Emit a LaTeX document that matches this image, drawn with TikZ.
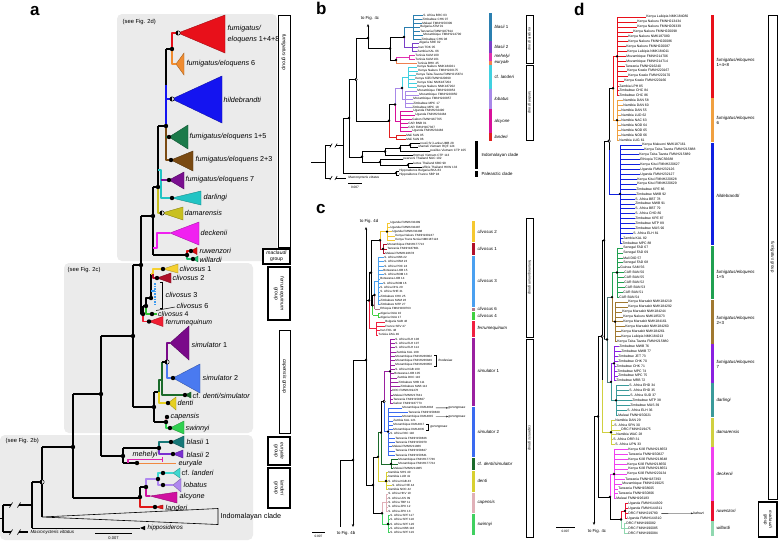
\documentclass[tikz,border=0pt]{standalone}
\usepackage{fontspec}
\setmainfont{Liberation Sans}
\usetikzlibrary{arrows.meta}
\definecolor{boxgray}{HTML}{EBEBEB}
\definecolor{aFe148}{HTML}{E8101A}\definecolor{aFe6}{HTML}{F08C30}\definecolor{aHil}{HTML}{1414F0}
\definecolor{aFe15}{HTML}{1B7A4A}\definecolor{aFe23}{HTML}{7A4A12}\definecolor{aFe7}{HTML}{7A1090}
\definecolor{aDar}{HTML}{22C4C4}\definecolor{aDam}{HTML}{C8C020}\definecolor{aDec}{HTML}{F020F0}
\definecolor{aRuw}{HTML}{D81010}\definecolor{aWil}{HTML}{20C070}\definecolor{aCl1}{HTML}{F5D030}
\definecolor{aCl2}{HTML}{B0102A}\definecolor{aCl3}{HTML}{3A9AF0}\definecolor{aCl4}{HTML}{30C030}
\definecolor{aFer}{HTML}{F01E32}\definecolor{aSim1}{HTML}{7A0A8A}\definecolor{aSim2}{HTML}{4A7AF0}
\definecolor{aCfd}{HTML}{1A6A2A}\definecolor{aDen}{HTML}{E6D020}\definecolor{aCap}{HTML}{E8A8B0}
\definecolor{aSwi}{HTML}{30D050}\definecolor{aBl1}{HTML}{167878}\definecolor{aBl2}{HTML}{7A30D0}
\definecolor{aMeh}{HTML}{E020B0}\definecolor{aEur}{HTML}{F08840}\definecolor{aCfl}{HTML}{40D8D0}
\definecolor{aLob}{HTML}{B088F0}\definecolor{aAlc}{HTML}{D010A0}\definecolor{aLan}{HTML}{E01818}
\definecolor{bB1}{HTML}{2B7FB0}\definecolor{bB2}{HTML}{7A40C8}\definecolor{bMeh}{HTML}{E030B0}
\definecolor{bEur}{HTML}{F08050}\definecolor{bCfl}{HTML}{40D0E0}\definecolor{bLob}{HTML}{A888E8}
\definecolor{bAlc}{HTML}{D8109A}\definecolor{bLan}{HTML}{E02020}
\definecolor{cC2}{HTML}{F5C830}\definecolor{cC1}{HTML}{B0102A}\definecolor{cC3}{HTML}{4AA0F0}
\definecolor{cC6}{HTML}{B07888}\definecolor{cC4}{HTML}{40D040}\definecolor{cFer}{HTML}{F02040}
\definecolor{cSim1}{HTML}{9A20A0}\definecolor{cSim2}{HTML}{3A6AF0}\definecolor{cCfd}{HTML}{1A6A2A}
\definecolor{cDen}{HTML}{D8D030}\definecolor{cCap}{HTML}{E0B0B8}\definecolor{cSwi}{HTML}{40D060}
\definecolor{dRed}{HTML}{E8101A}\definecolor{dOra}{HTML}{F0A040}\definecolor{dBlu}{HTML}{1020E0}
\definecolor{dGre}{HTML}{20A050}\definecolor{dBro}{HTML}{A07830}\definecolor{dPur}{HTML}{8A20E0}
\definecolor{dTea}{HTML}{3A9A9A}\definecolor{dOli}{HTML}{D0D040}\definecolor{dMag}{HTML}{F040F0}
\definecolor{dRuw}{HTML}{E81030}\definecolor{dWil}{HTML}{90D8B0}\definecolor{dSla}{HTML}{507878}
\tikzset{
  ta/.style={line width=1.5pt, line join=round},
  tr/.style={line width=0.45pt},
  lab/.style={font=\fontsize{7.2}{8}\selectfont, anchor=west, inner sep=0.5pt},
  labs/.style={font=\fontsize{6.2}{7}\selectfont, anchor=west, inner sep=0.5pt},
  small/.style={font=\fontsize{5.8}{7}\selectfont, anchor=west, inner sep=0.5pt},
  tipb/.style={font=\fontsize{3.1}{3.3}\selectfont, anchor=west, inner sep=0.2pt},
  tipc/.style={font=\fontsize{3.0}{3.2}\selectfont, anchor=west, inner sep=0.2pt},
  tipd/.style={font=\fontsize{3.4}{3.6}\selectfont, anchor=west, inner sep=0.2pt},
  barlab/.style={font=\fontsize{4.4}{4.9}\selectfont\itshape, anchor=west, inner sep=0.3pt, align=left},
  panel/.style={font=\fontsize{17}{17}\selectfont\bfseries, anchor=base west, inner sep=0pt},
  grpa/.style={font=\fontsize{5}{5.8}\selectfont, align=center, inner sep=0pt},
  grpb/.style={font=\fontsize{3.6}{4}\selectfont, align=center, inner sep=0pt},
  grpd/.style={font=\fontsize{4.3}{4.8}\selectfont, align=center, inner sep=0pt},
  tof/.style={font=\fontsize{4.3}{4.5}\selectfont, inner sep=0.3pt},
  sbl/.style={font=\fontsize{3.2}{3.4}\selectfont, inner sep=0.2pt},
  gbox/.style={draw, line width=0.7pt, fill=white},
  gboxb/.style={draw, line width=1.1pt, fill=white},
  arr/.style={-{Stealth[length=3pt,width=2.4pt]}},
}
\newcommand{\ndA}[2]{\fill (#1,#2) circle (2.2);}
\newcommand{\hnA}[2]{\fill[white] (#1,#2) circle (2.2); \fill (#1,#2) -- ++(90:2.2) arc (90:270:2.2) -- cycle; \draw[line width=0.5pt] (#1,#2) circle (2.2);}
\newcommand{\ndS}[2]{\fill (#1,#2) circle (1.3);}
\newcommand{\hnS}[2]{\fill[white] (#1,#2) circle (1.4); \fill (#1,#2) -- ++(90:1.4) arc (90:270:1.4) -- cycle; \draw[line width=0.35pt] (#1,#2) circle (1.4);}
\newcommand{\triA}[5]{\filldraw[fill=#1, draw=#1!70!black, line width=0.4pt] (#2) -- (#3,#4) -- (#3,#5) -- cycle;}
\newcommand{\cbarX}[4]{\fill[#1] (#2,#3) rectangle (#2+2.6,#4);}
\newcommand{\brkX}[7]{%
  \draw[#6] (#1,#5) -- (#2,#5);
  \draw[#6] (#3,#5) -- (#4,#5);
  \draw[line width=0.6pt] (#2-0.6*#7,#5+#7) -- (#2+0.6*#7,#5-#7);
  \draw[line width=0.6pt] (#3-0.6*#7,#5+#7) -- (#3+0.6*#7,#5-#7);}
\newcommand{\cladeX}[9]{%
  \foreach \lab/\lx [count=\k from #6] in {#9}{%
    \pgfmathsetmacro{\yy}{#2+#3*\k}%
    \node[tip#1] (#1\k) at (\lx,\yy) {\lab};%
    \draw[tr,#4] (#5,\yy) -- (#1\k.west);%
  }%
  \pgfmathsetmacro{\ya}{#2+#3*#6}%
  \pgfmathsetmacro{\yb}{#2+#3*#7}%
  \draw[tr,#4] (#5,\ya) -- (#5,\yb);%
  \coordinate (#8) at (#5,{(\ya+\yb)/2});%
}
\begin{document}
\begin{tikzpicture}[x=1pt,y=-1pt]
\fill[white] (0,0) rectangle (778,542);
\useasboundingbox (0,0) rectangle (778,542);
%================ PANEL A ================
\node[panel] (pa) at (30,15) {a};
\fill[boxgray, rounded corners=5pt] (117,14) rectangle (277,261);
\fill[boxgray, rounded corners=5pt] (64,263) rectangle (253,433);
\fill[boxgray, rounded corners=5pt] (0,435) rectangle (253,540);
\node[small] (s2d) at (122,22) {(see Fig. 2d)};
\node[small] (s2c) at (67,270) {(see Fig. 2c)};
\node[small] (s2b) at (5,441) {(see Fig. 2b)};
% backbone
\draw[ta] (0,518.5) -- (3,518.5);
\draw[ta] (3,505) -- (3,532);
\brkX{3}{11}{19}{32}{505}{ta}{2.6}
\brkX{3}{11}{19}{28}{532}{ta}{2.6}
\node[font=\fontsize{4.5}{5}\selectfont\itshape, anchor=west, inner sep=0.3pt] (lMac) at (30,532) {Macronycteris vittatus};
\draw[ta] (32,482) -- (32,528);
\draw[ta] (32,482) -- (42,482);
\draw[line width=0.6pt] (32,528) -- (140,528);
\fill (140,528) -- (145,525.8) -- (145,530.2) -- cycle;
\node[labs] (lHip) at (147,528) {\textit{hipposideros}};
\draw[line width=0.6pt] (42,517) -- (218,508.5) -- (218,524.5) -- cycle;
\node[lab] (lInd) at (220,516.5) {Indomalayan clade};
\draw[ta] (42,447) -- (42,517);
\draw[ta] (42,447) -- (73,447);
\draw[ta] (73,394) -- (73,498);
\draw[ta] (73,394) -- (101,394);
\draw[ta] (101,336) -- (101,456);
\draw[ta] (101,336) -- (133,336);
\draw[ta] (133,265) -- (133,407);
\draw[ta] (133,265) -- (141,265);
\draw[line width=0.6pt] (95,533) -- (132,533);
\node[font=\fontsize{4}{4}\selectfont] (sa) at (113.5,538.3) {0.007};
% fumigatus group
\triA{aFe148}{178,33}{225}{15}{53}
\triA{aFe6}{176,64}{184}{53}{75}
\triA{aHil}{172,99}{222}{76}{123}
\triA{aFe15}{169,137}{188}{125}{149}
\triA{aFe23}{171,160}{193}{151}{171}
\triA{aFe7}{169,180}{184}{172}{189}
\triA{aDar}{172,198}{201}{191}{205}
\triA{aDam}{162,213}{183}{207}{220}
\triA{aDec}{170,233}{199}{222}{245}
\triA{aRuw}{191,251}{197}{247.5}{254.5}
\triA{aWil}{193,259}{198}{256}{262}
\draw[ta] (141,216) -- (153,216);
\draw[ta] (153,187) -- (153,255);
\draw[ta] (153,187) -- (158,187);
\draw[ta] (158,126) -- (158,187);
\draw[ta,aDam] (158,187) -- (158,213) -- (162,213);
\draw[ta] (158,126) -- (166,126);
\draw[ta] (166,49) -- (166,85);
\draw[ta,aHil] (166,85) -- (166,126);
\draw[ta,aFe23] (166,126) -- (166,160) -- (171,160);
\draw[ta,aFe15] (166,137) -- (169,137);
\draw[ta] (166,49) -- (172,49);
\draw[ta,aHil] (166,99) -- (172,99);
\draw[ta,aFe148] (172,49) -- (172,33) -- (178,33);
\draw[ta,aFe6] (172,49) -- (172,64) -- (176,64);
\draw[ta,aDar] (158,170) -- (161,170) -- (161,198) -- (172,198);
\draw[ta,aFe7] (161,180) -- (169,180);
\draw[ta,aDec] (153,248) -- (157,248) -- (157,233) -- (170,233);
\draw[ta] (153,255) -- (187,255);
\draw[ta,aRuw] (187,255) -- (187,251) -- (191,251);
\draw[ta,aWil] (187,255) -- (187,259) -- (193,259);
\hnA{178}{33}\hnA{172}{99}\hnA{162}{213}
\ndA{172}{49}\ndA{166}{126}\ndA{169}{137}\ndA{171}{160}\ndA{169}{180}\ndA{172}{198}
\ndA{158}{187}\ndA{153}{216}\ndA{141}{265}\ndA{187}{255}\ndA{191}{251}\ndA{193}{259}
\ndA{133}{336}\ndA{101}{394}\ndA{73}{447}
\hnA{42}{482}
\node[lab] (lF1) at (227,29) {\textit{fumigatus/}};
\node[lab] (lF1b) at (227,40) {\textit{eloquens} 1+4+8};
\node[lab] (lF6) at (186,64) {\textit{fumigatus/eloquens} 6};
\node[lab] (lHi) at (223,100) {\textit{hildebrandti}};
\node[lab] (lF15) at (189,137) {\textit{fumigatus/eloquens} 1+5};
\node[lab] (lF23) at (195,160) {\textit{fumigatus/eloquens} 2+3};
\node[lab] (lF7) at (185,180) {\textit{fumigatus/eloquens} 7};
\node[lab] (lDa) at (203,198) {\textit{darlingi}};
\node[lab] (lDm) at (184,213) {\textit{damarensis}};
\node[lab] (lDe) at (200,233) {\textit{deckenii}};
\node[lab] (lRu) at (199,251) {\textit{ruwenzori}};
\node[lab] (lWi) at (199,260) {\textit{willardi}};
% ferrumequinum group
\triA{aCl1}{163,269}{178}{264}{273}
\triA{aCl2}{157,278}{171}{273}{283}
\triA{aFer}{149,321.5}{163}{316.5}{326.5}
\draw[ta] (141,216) -- (141,314) -- (143,314);
\draw[ta] (143,306) -- (143,314);
\draw[ta,aFer] (143,314) -- (143,321.5) -- (149,321.5);
\draw[ta] (143,306) -- (146,306) -- (146,298) -- (151,298);
\draw[ta,aCl4] (146,306) -- (146,314) -- (157,314);
\draw[ta] (151,298) -- (151,274);
\draw[ta,aCl1] (151,274) -- (153,274) -- (153,269) -- (163,269);
\draw[ta,aCl2] (153,274) -- (153,278) -- (157,278);
\draw[ta,aCl3] (151,291) -- (155,291);
\draw[aCl3, line width=1.6pt, dash pattern=on 1.6pt off 1pt] (155,283) -- (155,306);
\draw[line width=0.5pt] (160,282) -- (162,282) -- (162,308) -- (160,308);
\draw[line width=0.5pt] (156,310.5) -- (175,307);
\ndA{163}{269}\ndA{157}{278}\ndA{151}{298}\ndA{146}{306}\ndA{143}{314}\ndA{152}{314}\ndA{149}{321.5}
\node[lab] (lC1) at (179,269) {\textit{clivosus} 1};
\node[lab] (lC2) at (172,278) {\textit{clivosus} 2};
\node[lab] (lC3) at (165,295) {\textit{clivosus} 3};
\node[lab] (lC6) at (176,306.3) {\textit{clivosus} 6};
\node[lab,font=\fontsize{6.9}{7.5}\selectfont] (lC4) at (157.5,314.2) {\textit{clivosus} 4};
\node[lab,font=\fontsize{6.9}{7.5}\selectfont] (lFe) at (165,322.6) {\textit{ferrumequinum}};
% capensis group
\triA{aSim1}{170,343}{189}{326}{360}
\triA{aSim2}{173,378}{200}{364}{393}
\triA{aCfd}{185,395}{191}{392}{398}
\triA{aDen}{168,403}{176}{397}{410}
\triA{aSwi}{170,428}{184}{421}{434}
\draw[ta] (133,407) -- (154,407);
\draw[ta] (154,392) -- (154,422);
\draw[ta] (154,392) -- (159,392);
\draw[ta,aCfd] (159,392) -- (159,380) -- (162,380);
\draw[ta,aDen] (159,392) -- (159,403) -- (168,403);
\draw[ta,aCfd] (162,362) -- (162,395) -- (185,395);
\draw[ta] (162,362) -- (167,362);
\draw[ta,aSim1] (167,362) -- (167,343) -- (170,343);
\draw[ta,aSim2] (167,362) -- (167,378) -- (173,378);
\draw[ta] (154,422) -- (166,422);
\draw[ta,aCap] (166,422) -- (166,417) -- (167,417);
\draw[ta,aSwi] (166,422) -- (166,428) -- (170,428);
\hnA{167}{362}
\ndA{154}{407}\ndA{166}{422}\ndA{167}{417}\ndA{170}{428}\ndA{168}{403}\ndA{185}{395}\ndA{173}{378}
\node[lab] (lS1) at (191,345) {\textit{simulator} 1};
\node[lab] (lS2) at (202,378) {\textit{simulator} 2};
\node[lab] (lCf) at (192,395.5) {cf. \textit{denti/simulator}};
\node[lab] (lDn) at (177,403) {\textit{denti}};
\node[lab] (lCp) at (170,416.5) {\textit{capensis}};
\node[lab] (lSw) at (185,428.5) {\textit{swinnyi}};
% euryale / blasii
\triA{aBl1}{171,442}{184}{436}{448}
\triA{aBl2}{173,454}{183}{450}{458}
\draw[ta] (101,456) -- (123,456);
\draw[ta] (123,448) -- (123,463);
\draw[ta] (123,448) -- (159,448);
\draw[ta,aBl1] (159,448) -- (159,442) -- (171,442);
\draw[ta,aBl2] (159,448) -- (159,454) -- (173,454);
\draw[ta] (123,463) -- (137,463);
\draw[ta,aMeh] (128,463) -- (128,459.5) -- (162,459.5);
\draw[aMeh, line width=1pt] (162,457) -- (162,462);
\draw[ta,aEur] (137,463.5) -- (176,463.5);
\ndA{123}{456}\ndA{159}{448}\ndA{171}{442}\ndA{173}{454}\ndA{137}{463}
\node[lab] (lB1) at (186,442) {\textit{blasii} 1};
\node[lab] (lB2) at (186,454.5) {\textit{blasii} 2};
\node[lab] (lMe) at (132,454.5) {\textit{mehelyi}};
\node[lab] (lEu) at (178,463.5) {\textit{euryale}};
% landeri group
\triA{aCfl}{173,473}{180}{468}{478}
\triA{aLob}{173,485}{181}{478.5}{492}
\triA{aAlc}{150,496}{177}{492}{503}
\triA{aLan}{155,507}{163}{505}{509}
\draw[ta] (73,498) -- (140,498);
\draw[ta] (140,487) -- (140,498);
\draw[ta,aLan] (140,498) -- (140,507) -- (155,507);
\draw[ta] (140,487) -- (146,487);
\draw[ta,aLob] (146,487) -- (146,479) -- (158,479);
\draw[ta,aAlc] (146,487) -- (146,496) -- (150,496);
\draw[ta,aCfl] (158,479) -- (158,473) -- (173,473);
\draw[ta,aLob] (158,479) -- (158,485) -- (173,485);
\ndA{140}{497}\ndA{146}{487}\ndA{158}{479}\ndA{155}{507}\ndA{163}{473}\ndA{163}{485}
\node[lab] (lCl) at (181,473) {cf. \textit{landeri}};
\node[lab] (lLo) at (183,485) {\textit{lobatus}};
\node[lab] (lAl) at (179,496.5) {\textit{alcyone}};
\node[lab] (lLa) at (165,507.5) {\textit{landeri}};
% group boxes a
\draw[gbox] (278,15) rectangle (290,247);
\node[grpa, rotate=-90] (gaF) at (284,52) {\textit{fumigatus} group};
\draw[gboxb] (263,249) rectangle (290,264);
\node[grpa] (gaM) at (276.5,256.5) {\textit{maclaudi}\\group};
\draw[gboxb] (268,267) rectangle (290,320);
\node[grpa, rotate=-90] (gaFe) at (279,293.5) {\textit{ferrumequinum}\\group};
\draw[gbox] (279,330) rectangle (290,433);
\node[grpa, rotate=-90] (gaC) at (284.5,376) {\textit{capensis} group};
\draw[gboxb] (268,437) rectangle (290,465);
\node[grpa, rotate=-90] (gaE) at (279,451) {\textit{euryale}\\group};
\draw[gboxb] (268,468) rectangle (290,508);
\node[grpa, rotate=-90] (gaL) at (279,488) {\textit{landeri}\\group};
%================ PANEL B ================
\node[panel] (pb) at (316,14) {b};
\cladeX{b}{15}{4}{bB1}{413}{0}{6}{bq1}{S. Africa BRC 03/423, Zimbabwe CHK 07/422, Malawi FMNH150309/422, Bulgaria ATM 01/420, Tanzania FMNH187814/420, Mozambique FMNH214700/423, Zimbabwe CHK 08/421}
\cladeX{b}{15}{4}{bB2}{412}{7}{9}{bq2}{Algeria SRE 02/419, Iran TOK 05/418, Zambia KAL 06/417}
\cladeX{b}{15}{4}{bMeh}{409}{10}{11}{bq3}{Tunisia KAM 100/415, Tunisia KAM 101/415}
\cladeX{b}{15}{4}{bEur}{396}{12}{12}{bq4}{Tunisia BHK 45/417}
\cladeX{b}{15}{4}{bCfl}{408}{13}{18}{bq5}{Kenya Nakuru NMK184021/417, Kenya Nakuru FMNH220175/418, Kenya Taita-Taveta FMNH215874/416, Kenya Kilifi FMNH220690/415, Kenya Kitui NMK187204/417, Kenya Nakuru NMK187202/417}
\cladeX{b}{15}{4}{bLob}{405}{19}{23}{bq6}{Mozambique FMNH220853/417, Mozambique FMNH220850/419, Mozambique FMNH220857/413, Zimbabwe MPC 17/413, Zimbabwe MPC 18/412}
\cladeX{b}{15}{4}{bAlc}{400}{24}{29}{bq7}{Uganda FMNH232490/413, Uganda FMNH232484/415, Gabon FMNH167765/412, CAR BNB 01/408, CAR FMNH167367/408, Uganda FMNH232483/412}
\cladeX{b}{15}{4}{bLan}{396}{30}{31}{bq8}{Mali SAN 95/406, Mali SAN 96/406}
\cladeX{b}{15}{4}{black}{410}{32}{33}{bq9}{rouxii Sri Lanka UMB 28/420, shameli Vietnam RQF 124/418}
\cladeX{b}{15}{4}{black}{400}{34}{34}{bq10}{pusillus Vietnam CTP 105/430}
\cladeX{b}{15}{4}{black}{385}{35}{35}{bq11}{thomasi Vietnam CTP 113/413}
\cladeX{b}{15}{4}{black}{380}{36}{36}{bq12}{pearsoni Thailand NUC 102/403}
\cladeX{b}{15}{4}{black}{408}{37}{38}{bq13}{luctus Thailand KBO 99/413, affinis Thailand HKW 133/422}
\cladeX{b}{15}{4}{black}{396}{39}{40}{bq14}{Hipposideros Bulgaria BKA 83/399, Hipposideros France SBP 94/399}
\draw[tr,bB1] (404,27) -- (404,37); \draw[tr,bB2] (404,37) -- (404,47);
\draw[tr,bB1] (404,27) -- (413,27); \draw[tr,bB2] (404,47) -- (412,47);
\draw[tr,bMeh] (396,57) -- (396,60); \draw[tr,bEur] (396,60) -- (396,63);
\draw[tr,bMeh] (396,57) -- (409,57);
\draw[tr] (390,37) -- (390,60); \draw[tr] (390,37) -- (404,37); \draw[tr] (390,60) -- (396,60);
\draw[tr] (368,48.5) -- (390,48.5);
\draw[tr,arr] (368,48.5) -- (368,24);
\node[tof] (t4c) at (370,18.5) {to Fig. 4c};
\draw[tr] (356,38) -- (368,38);
\draw[tr,bCfl] (402,77) -- (402,88); \draw[tr,bLob] (402,88) -- (402,99);
\draw[tr,bCfl] (402,77) -- (408,77); \draw[tr,bLob] (402,99) -- (405,99);
\draw[tr,bLob] (395,88) -- (395,104.5); \draw[tr,bAlc] (395,104.5) -- (395,121);
\draw[tr,bLob] (395,88) -- (402,88); \draw[tr,bAlc] (395,121) -- (400,121);
\draw[tr] (389,104.5) -- (389,120.75); \draw[tr,bLan] (389,120.75) -- (389,137);
\draw[tr] (389,104.5) -- (395,104.5); \draw[tr,bLan] (389,137) -- (396,137);
\draw[tr] (356,38) -- (356,120.75); \draw[tr] (356,120.75) -- (389,120.75);
\draw[tr] (400,145) -- (400,151); \draw[tr] (400,145) -- (410,145);
\draw[tr] (385,148) -- (385,155); \draw[tr] (385,148) -- (400,148);
\draw[tr] (380,159) -- (380,165); \draw[tr] (380,165) -- (408,165);
\draw[tr] (362,151.5) -- (362,162); \draw[tr] (362,151.5) -- (385,151.5); \draw[tr] (362,162) -- (380,162);
\draw[tr] (349,79.4) -- (349,156.75); \draw[tr] (349,79.4) -- (356,79.4); \draw[tr] (349,156.75) -- (362,156.75);
\draw[tr] (343,118) -- (343,173); \draw[tr] (343,118) -- (349,118); \draw[tr] (343,173) -- (396,173);
\draw[tr] (325,145.5) -- (325,178);
\draw[tr] (311,161.75) -- (325,161.75);
\brkX{325}{331}{336}{343}{145.5}{tr}{2}
\brkX{325}{331}{336}{346}{178}{tr}{2}
\node[font=\fontsize{3.2}{3.4}\selectfont\itshape, anchor=west, inner sep=0.2pt] (lMacb) at (348,178) {Macronycteris vittatus};
\ndS{404}{37}\ndS{396}{60}\ndS{390}{48.5}\ndS{368}{38}\ndS{402}{88}\ndS{395}{104.5}\ndS{389}{120.75}
\hnS{356}{79.4}\ndS{400}{148}\ndS{385}{151.5}\ndS{380}{162}\ndS{362}{156.75}\ndS{349}{118}\ndS{410}{145}\ndS{408}{165}\ndS{396}{173}
\draw[tr] (348,183) -- (362,183);
\node[sbl] (sb) at (355,187.5) {0.007};
\cbarX{bB1}{489}{13.3}{40.6}\cbarX{bB2}{489}{41.4}{52.6}\cbarX{bMeh}{489}{53.4}{60.6}\cbarX{bEur}{489}{61.4}{64.6}
\cbarX{bCfl}{489}{65.4}{88.6}\cbarX{bLob}{489}{89.4}{108.6}\cbarX{bAlc}{489}{109.4}{132.6}\cbarX{bLan}{489}{133.4}{140.6}
\node[barlab] (blb1) at (494,27) {blasii \textup{1}};
\node[barlab] (blb2) at (494,47) {blasii \textup{2}};
\node[barlab] (blb3) at (494,56.5) {mehelyi};
\node[barlab] (blb4) at (494,62) {euryale};
\node[barlab] (blb5) at (494,77) {\textup{cf.} landeri};
\node[barlab] (blb6) at (494,99) {lobatus};
\node[barlab] (blb7) at (494,121) {alcyone};
\node[barlab] (blb8) at (494,137) {landeri};
\fill (475,141) rectangle (477.5,169);
\fill (475,170.5) rectangle (477.5,177);
\node[barlab,font=\fontsize{4.4}{4.9}\selectfont] (bInd) at (481,155) {Indomalayan clade};
\node[barlab,font=\fontsize{4.4}{4.9}\selectfont] (bPal) at (481,174) {Palearctic clade};
\draw[gbox,line width=0.6pt] (526,15) rectangle (533,63);
\node[grpb, rotate=-90] (gbE) at (529.5,39) {\textit{euryale} group};
\draw[gbox,line width=0.6pt] (526,65) rectangle (533,140);
\node[grpb, rotate=-90] (gbL) at (529.5,102.5) {\textit{landeri} group};
%================ PANEL C ================
\node[panel] (pc) at (316,213) {c};
\cladeX{c}{223}{4.3}{cC2}{387}{0}{4}{cq1}{Uganda FMNH232489/390, Uganda FMNH232487/390, Uganda FMNH232488/392, Kenya Nakuru FMNH220247/395, Kenya Trans Nzoia NMK187124/395}
\cladeX{c}{223}{4.3}{cC1}{383}{5}{7}{cq2}{Mozambique FMNH177713/387, Tanzania FMNH187801/387, Malawi FMNH192678/385}
\cladeX{c}{223}{4.3}{cC3}{378}{8}{19}{cq3}{S. Africa KBB 22/384, S. Africa KBM 23/384, S. Africa POC 24/384, Botswana LOB 15/383, S. Africa BOM 13/384, Botswana LOB 14/380, S. Africa BOM 16/383, S. Africa DHL 20/380, S. Africa SHE 21/380, Zimbabwe CHK 25/380, Zimbabwe MAM 26/380, Zimbabwe MTP 27/380}
\cladeX{c}{223}{4.3}{cC6}{376}{20}{20}{cq4}{Ethiopia FMNH209763/380}
\cladeX{c}{223}{4.3}{cC4}{378}{21}{22}{cq5}{Algeria OUA 10/380, Algeria OUA 17/380}
\cladeX{c}{223}{4.3}{cFer}{376}{23}{26}{cq6}{Bulgaria SAB 46/385, France SEV 47/385, Iran FOL 48/380, Tunisia ZAG 49/378}
\cladeX{c}{223}{4.3}{cSim1}{390}{27}{42}{cq7}{S. Africa ELH 106/395, S. Africa ELH 107/395, S. Africa ELH 114/395, Zambia KAL 108/396, Mozambique FMNH236802/395, Mozambique FMNH236849/395, Mozambique FMNH236850/395, S. Africa KGB 109/395, Botswana LOB 105/394, Zambia DKC 110/397, Zimbabwe SHB 111/398, Zimbabwe MAB 112/400, DRC FMNH219476/392, Malawi FMNH217641/393, Tanzania FMNH158607/393, Gabon FMNH167773/393}
\cladeX{c}{223}{4.3}{cSim2}{388}{43}{54}{cq8}{Mozambique DM14818/402, Tanzania FMNH158829/408, Mozambique DM14815/402, Zambia KAL 121/393, Mozambique DM14817/393, Mozambique DM14835/393, S. Africa PAC 118/390, Tanzania FMNH158826/395, Tanzania FMNH150070/395, Malawi FMNH211866/392, Tanzania FMNH158827/395, Tanzania FMNH150641/395}
\cladeX{c}{223}{4.3}{cCfd}{391}{55}{57}{cq9}{Mozambique FMNH177736/398, Mozambique FMNH177724/398, Malawi FMNH211865/393}
\cladeX{c}{223}{4.3}{cDen}{386}{58}{62}{cq10}{Namibia SHS 40/388, Namibia LUD 41/388, S. Africa KGB 43/388, S. Africa PJE 44/392, Namibia NOC 42/388}
\cladeX{c}{223}{4.3}{cCap}{386}{63}{67}{cq11}{S. Africa HKV 10/388, S. Africa LKS 09/388, S. Africa TBP 11/388, S. Africa ZPK 12/388, S. Africa ZPK 13/388}
\cladeX{c}{223}{4.3}{cSwi}{388}{68}{72}{cq12}{S. Africa SPF 117/390, S. Africa SPF 118/390, S. Africa SPF 120/390, S. Africa KBB 116/390, S. Africa SPF 119/390}
\draw[tr,cC2] (380,231.6) -- (380,240.2); \draw[tr,cC1] (380,240.2) -- (380,248.8);
\draw[tr,cC2] (380,231.6) -- (387,231.6); \draw[tr,cC1] (380,248.8) -- (383,248.8);
\draw[tr,cC3] (374.5,281.05) -- (374.5,295); \draw[tr,cC6] (374.5,295) -- (374.5,309);
\draw[tr,cC3] (374.5,281.05) -- (378,281.05); \draw[tr,cC6] (374.5,309) -- (376,309);
\draw[tr] (372.5,295) -- (372.5,305.2); \draw[tr,cC4] (372.5,305.2) -- (372.5,315.45);
\draw[tr] (372.5,295) -- (374.5,295); \draw[tr,cC4] (372.5,315.45) -- (378,315.45);
\draw[tr] (371,240.2) -- (371,305.2); \draw[tr] (371,240.2) -- (380,240.2); \draw[tr] (371,305.2) -- (372.5,305.2);
\draw[tr] (369,272.7) -- (369,300.5); \draw[tr,cFer] (369,300.5) -- (369,328.35);
\draw[tr] (369,272.7) -- (371,272.7); \draw[tr,cFer] (369,328.35) -- (376,328.35);
\draw[tr,cSim1] (384,371.35) -- (384,401.45); \draw[tr,cSim2] (384,401.45) -- (384,431.55);
\draw[tr,cSim1] (384,371.35) -- (390,371.35); \draw[tr,cSim2] (384,431.55) -- (388,431.55);
\draw[tr] (381,401.45) -- (381,432.6); \draw[tr,cCfd] (381,432.6) -- (381,463.8);
\draw[tr] (381,401.45) -- (384,401.45); \draw[tr,cCfd] (381,463.8) -- (391,463.8);
\draw[tr,cCfd] (378,432.6) -- (378,456.8); \draw[tr,cDen] (378,456.8) -- (378,481);
\draw[tr,cCfd] (378,432.6) -- (381,432.6); \draw[tr,cDen] (378,481) -- (386,481);
\draw[tr,cCap] (382,502.5) -- (382,513.25); \draw[tr,cSwi] (382,513.25) -- (382,524);
\draw[tr,cCap] (382,502.5) -- (386,502.5); \draw[tr,cSwi] (382,524) -- (388,524);
\draw[tr] (373,456.8) -- (373,513.25); \draw[tr] (373,456.8) -- (378,456.8); \draw[tr] (373,513.25) -- (382,513.25);
\draw[tr] (366,300.5) -- (366,485); \draw[tr] (366,300.5) -- (369,300.5); \draw[tr] (366,485) -- (373,485);
\draw[tr,arr] (366,300.5) -- (366,227);
\node[tof] (t4d) at (369,221) {to Fig. 4d};
\draw[tr] (353,360) -- (366,360);
\draw[tr,arr] (353,360) -- (353,527);
\draw[tr] (340,460) -- (353,460); \draw[tr] (340,460) -- (340,527);
\node[tof] (t4b) at (346,533.5) {to Fig. 4b};
\ndS{380}{240.2}\ndS{374.5}{295}\ndS{372.5}{305.2}\ndS{371}{272.7}\ndS{369}{300.5}\ndS{366}{360}
\hnS{384}{401.45}\ndS{381}{432.6}\ndS{378}{456.8}\ndS{382}{513.25}\ndS{373}{485}\ndS{353}{460}
\ndS{387}{231.6}\ndS{383}{248.8}\ndS{391}{463.8}\ndS{386}{481}\ndS{388}{524}\ndS{390}{371.35}\ndS{388}{431.55}
\draw[tr] (312,532) -- (325,532);
\node[sbl] (sc) at (318.5,536.5) {0.007};
% rhodesiae / gorongosae
\draw[line width=0.35pt] (434,355.3) -- (436,355.3) -- (436,365.9) -- (434,365.9);
\node[tipc,font=\fontsize{3.2}{3.4}\selectfont\itshape] (rho) at (438,360.6) {rhodesiae};
\node[tipc,font=\fontsize{3.2}{3.4}\selectfont\itshape] (gor1) at (448,407.9) {gorongosae};
\node[tipc,font=\fontsize{3.2}{3.4}\selectfont\itshape] (gor2) at (448,416.5) {gorongosae};
\draw[line width=0.35pt,-{Stealth[length=1.8pt,width=1.5pt]}] ([xshift=2pt]c43.east) -- (gor1.west);
\draw[line width=0.35pt,-{Stealth[length=1.8pt,width=1.5pt]}] ([xshift=2pt]c45.east) -- (gor2.west);
\draw[line width=0.35pt] (426,424.3) -- (428,424.3) -- (428,430.2) -- (426,430.2);
\node[tipc,font=\fontsize{3.2}{3.4}\selectfont\itshape] (gor3) at (430,427.3) {gorongosae};
% bars c
\cbarX{cC2}{472}{221}{242}\cbarX{cC1}{472}{242.6}{255}\cbarX{cC3}{472}{255.6}{307}\cbarX{cC6}{472}{307.6}{311}
\cbarX{cC4}{472}{311.6}{320}\cbarX{cFer}{472}{320.6}{337}\cbarX{cSim1}{472}{337.6}{406}\cbarX{cSim2}{472}{406.6}{457}
\cbarX{cCfd}{472}{457.6}{470}\cbarX{cDen}{472}{470.6}{492}\cbarX{cCap}{472}{492.6}{513}\cbarX{cSwi}{472}{513.6}{535}
\node[barlab] (clb1) at (477,231.6) {clivosus \textup{2}};
\node[barlab] (clb2) at (477,248.8) {clivosus \textup{1}};
\node[barlab] (clb3) at (477,281) {clivosus \textup{3}};
\node[barlab] (clb4) at (477,309) {clivosus \textup{6}};
\node[barlab] (clb5) at (477,315.8) {clivosus \textup{4}};
\node[barlab] (clb6) at (477,328.4) {ferrumequinum};
\node[barlab] (clb7) at (477,371.4) {simulator \textup{1}};
\node[barlab] (clb8) at (477,431.6) {simulator \textup{2}};
\node[barlab] (clb9) at (477,463.8) {\textup{cf.} denti/simulator};
\node[barlab] (clb10) at (477,481) {denti};
\node[barlab] (clb11) at (477,502.5) {capensis};
\node[barlab] (clb12) at (477,524) {swinnyi};
\draw[gbox,line width=0.6pt] (526,218) rectangle (533,337);
\node[grpb, rotate=-90] (gcF) at (529.5,277.5) {\textit{ferrumequinum} group};
\draw[gbox,line width=0.6pt] (526,339) rectangle (533,537);
\node[grpb, rotate=-90] (gcC) at (529.5,438) {\textit{capensis} group};
%================ PANEL D ================
\node[panel] (pd) at (574,15) {d};
\cladeX{d}{17}{4.914}{dRed}{617}{0}{16}{dq1}{Kenya Laikipia NMK184080/646, Kenya Nakuru FMNH213434/637, Kenya Nakuru FMNH209339/637, Kenya Nakuru FMNH220098/633, Kenya Nakuru NMK187080/628, Kenya Nakuru FMNH220086/628, Kenya Nakuru FMNH220087/626, Kenya Laikipia NMK184011/627, Mozambique FMNH214706/626, Mozambique FMNH214714/626, Tanzania FMNH216240/625, Kenya Kwale FMNH220167/627, Kenya Kwale FMNH220170/628, Kenya Kwale FMNH220166/624, Zambia LPH 85/619, Zimbabwe CHC 84/619, Zimbabwe CHC 86/619}
\cladeX{d}{17}{4.914}{dOra}{617}{17}{25}{dq2}{Namibia DAN 58/623, Namibia DAN 60/623, Namibia DAN 55/621, Namibia LUD 62/621, Namibia NAC 63/621, Namibia NOD 64/621, Namibia NOD 65/621, Namibia NOD 66/621, Namibia LUG 61/619}
\cladeX{d}{17}{4.914}{dBlu}{620}{26}{46}{dq3}{Kenya Makueni NMK187161/642, Kenya Taita-Taveta FMNH215888/644, Kenya Taita-Taveta FMNH215889/639, Ethiopia TCWC56688/640, Kenya Kitui FMNH220627/640, Uganda FMNH232126/640, Uganda FMNH232127/640, Kenya Kitui FMNH220628/637, Kenya Kitui FMNH220629/637, Zimbabwe KPE 86/636, Zimbabwe MWB 92/636, S. Africa BBT 78/635, Zimbabwe MWB 91/635, S. Africa BBT 79/635, S. Africa CHD 80/635, Zimbabwe KPE 87/635, Zimbabwe MTP 89/635, Zimbabwe MUS 90/635, S. Africa ELH 81/633, Zambia KAL 82/623, Zimbabwe MPC 88/622}
\cladeX{d}{17}{4.914}{dGre}{617}{47}{57}{dq4}{Senegal FAD 67/623, Senegal FAD 69/623, Mali DIO 57/623, Senegal FAD 68/623, Guinea SAM 56/620, CAR BAN 50/624, CAR BAN 55/624, CAR BAN 52/624, CAR BAN 53/625, CAR BAN 51/623, CAR BAN 54/619}
\cladeX{d}{17}{4.914}{dBro}{615}{58}{66}{dq5}{Kenya Marsabit NMK184219/628, Kenya Marsabit NMK184292/628, Kenya Marsabit NMK184244/622, Kenya Nakuru NMK185073/623, Kenya Marsabit NMK184161/623, Kenya Marsabit NMK184260/625, Kenya Marsabit NMK184261/621, Kenya Laikipia NMK184213/621, Kenya Taita-Taveta FMNH215880/617}
\cladeX{d}{17}{4.914}{dPur}{614}{67}{74}{dq6}{Zimbabwe MWB 76/619, Zimbabwe MWB 77/621, Zimbabwe JET 73/618, Zimbabwe CHK 70/618, Zimbabwe CHK 71/616, Zimbabwe MPC 74/617, Zimbabwe MPC 75/618, Zimbabwe MRB 72/616}
\cladeX{d}{17}{4.914}{dTea}{616}{75}{81}{dq7}{S. Africa EHD 34/629, S. Africa EHD 35/629, S. Africa SUD 37/630, Zimbabwe MTP 38/632, Zimbabwe MUS 39/630, S. Africa ELH 36/627, Malawi FMNH150021/618}
\cladeX{d}{17}{4.914}{dOli}{611}{82}{87}{dq8}{Namibia DAN 29/615, S. Africa SPN 30/614, DRC FMNH219475/621, Namibia WAC 28/616, S. Africa ORR 31/613, S. Africa UPN 33/615}
\cladeX{d}{17}{4.914}{dMag}{614}{88}{98}{dq9}{Kenya Kilifi FMNH218653/628, Tanzania FMNH150827/628, Kenya Kilifi FMNH218648/628, Kenya Kilifi FMNH218650/627, Kenya Kilifi FMNH218651/628, Kenya Kilifi FMNH220134/627, Tanzania FMNH187393/625, Mozambique FMNH219025/622, Tanzania FMNH158605/618, Tanzania FMNH150806/618, Malawi FMNH196183/616}
\cladeX{d}{17}{4.914}{dRuw}{625}{99}{102}{dq10}{Uganda FMNH144309/628, Uganda FMNH144311/628, DRC FMNH219780/628, Uganda FMNH144310/627}
\cladeX{d}{17}{4.914}{dWil}{624}{103}{105}{dq11}{DRC FMNH190082/626, DRC FMNH190085/628, DRC FMNH190084/628}
\draw[tr,dRed] (613,56.3) -- (613,88.25); \draw[tr,dOra] (613,88.25) -- (613,120.2);
\draw[tr,dRed] (613,56.3) -- (617,56.3); \draw[tr,dOra] (613,120.2) -- (617,120.2);
\draw[tr] (609,88.25) -- (609,150); \draw[tr,dBlu] (609,150) -- (609,193.9);
\draw[tr] (609,88.25) -- (613,88.25); \draw[tr,dBlu] (609,193.9) -- (620,193.9);
\draw[tr,dGre] (612,272.5) -- (612,297.1); \draw[tr,dBro] (612,297.1) -- (612,321.7);
\draw[tr,dGre] (612,272.5) -- (617,272.5); \draw[tr,dBro] (612,321.7) -- (615,321.7);
\draw[tr,dPur] (611,363.4) -- (611,381.9); \draw[tr,dTea] (611,381.9) -- (611,400.3);
\draw[tr,dPur] (611,363.4) -- (614,363.4); \draw[tr,dTea] (611,400.3) -- (616,400.3);
\draw[tr,dSla] (607,297.1) -- (607,381.9); \draw[tr,dSla] (607,297.1) -- (612,297.1); \draw[tr,dSla] (607,381.9) -- (611,381.9);
\draw[tr] (604,141.1) -- (604,339.5); \draw[tr] (604,141.1) -- (609,141.1); \draw[tr,dSla] (604,339.5) -- (607,339.5);
\draw[tr] (602,240.3) -- (602,380); \draw[tr,dOli] (602,380) -- (602,432.2);
\draw[tr] (602,240.3) -- (604,240.3); \draw[tr,dOli] (602,432.2) -- (611,432.2);
\draw[tr,dRuw] (621,510.9) -- (621,519.5); \draw[tr,dWil] (621,519.5) -- (621,528.1);
\draw[tr,dRuw] (621,510.9) -- (625,510.9); \draw[tr,dWil] (621,528.1) -- (624,528.1);
\draw[tr,dMag] (610,474) -- (610,496.8); \draw[tr] (610,496.8) -- (610,519.5);
\draw[tr,dMag] (610,474) -- (614,474); \draw[tr] (610,519.5) -- (621,519.5);
\draw[tr] (598,336.3) -- (598,496.8); \draw[tr] (598,336.3) -- (602,336.3); \draw[tr] (598,496.8) -- (610,496.8);
\draw[tr] (594,416.5) -- (598,416.5);
\draw[tr,arr] (594,416.5) -- (594,525);
\node[tof] (t4c2) at (597,531.5) {to Fig. 4c};
\ndS{613}{88.25}\hnS{609}{141.1}\ndS{612}{297.1}\ndS{611}{381.9}\ndS{607}{339.5}\ndS{604}{240.3}
\hnS{602}{336.3}\ndS{621}{519.5}\ndS{610}{496.8}\ndS{598}{416.5}
\ndS{617}{56.3}\ndS{617}{120.2}\ndS{620}{193.9}\ndS{617}{272.5}\ndS{615}{321.7}\ndS{614}{363.4}\ndS{616}{400.3}\ndS{611}{432.2}\ndS{614}{474}\ndS{625}{510.9}
\node[tipd,font=\fontsize{3.6}{3.8}\selectfont\itshape] (kah) at (693,513.3) {kahuzi};
\draw[line width=0.35pt,-{Stealth[length=2pt,width=1.6pt]}] ([xshift=3pt]d101.east) -- (kah.west);
\draw[tr] (556,527) -- (575,527);
\node[sbl] (sd) at (565.5,531.5) {0.007};
\cbarX{dRed}{711}{14.5}{97.6}\cbarX{dOra}{711}{98.2}{142}\cbarX{dBlu}{711}{142.6}{245.3}\cbarX{dGre}{711}{245.9}{299.3}
\cbarX{dBro}{711}{299.9}{343.5}\cbarX{dPur}{711}{344.1}{382.8}\cbarX{dTea}{711}{383.4}{417.4}\cbarX{dOli}{711}{418}{446.8}
\cbarX{dMag}{711}{447.4}{500.8}\cbarX{dRuw}{711}{501.4}{520.5}\cbarX{dWil}{711}{521.1}{535.6}
\node[barlab] (dlb1) at (716,62) {fumigatus/eloquens\\\textup{1+4+8}};
\node[barlab] (dlb2) at (716,120.2) {fumigatus/eloquens\\\textup{6}};
\node[barlab] (dlb3) at (716,196) {hildebrandti};
\node[barlab] (dlb4) at (716,274.5) {fumigatus/eloquens\\\textup{1+5}};
\node[barlab] (dlb5) at (716,320.5) {fumigatus/eloquens\\\textup{2+3}};
\node[barlab] (dlb6) at (716,364.5) {fumigatus/eloquens\\\textup{7}};
\node[barlab] (dlb7) at (716,400.3) {darlingi};
\node[barlab] (dlb8) at (716,432.2) {damarensis};
\node[barlab] (dlb9) at (716,474) {deckenii};
\node[barlab] (dlb10) at (716,511) {ruwenzori};
\node[barlab] (dlb11) at (716,528) {willardi};
\draw[gbox,line width=0.6pt] (768,15) rectangle (777,499);
\node[grpd, rotate=-90] (gdF) at (772.5,257) {\textit{fumigatus} group};
\draw[gboxb] (758.5,502) rectangle (777,537);
\node[grpd, rotate=-90] (gdM) at (767.75,519.5) {\textit{maclaudi}\\group};
\end{tikzpicture}
\end{document}
